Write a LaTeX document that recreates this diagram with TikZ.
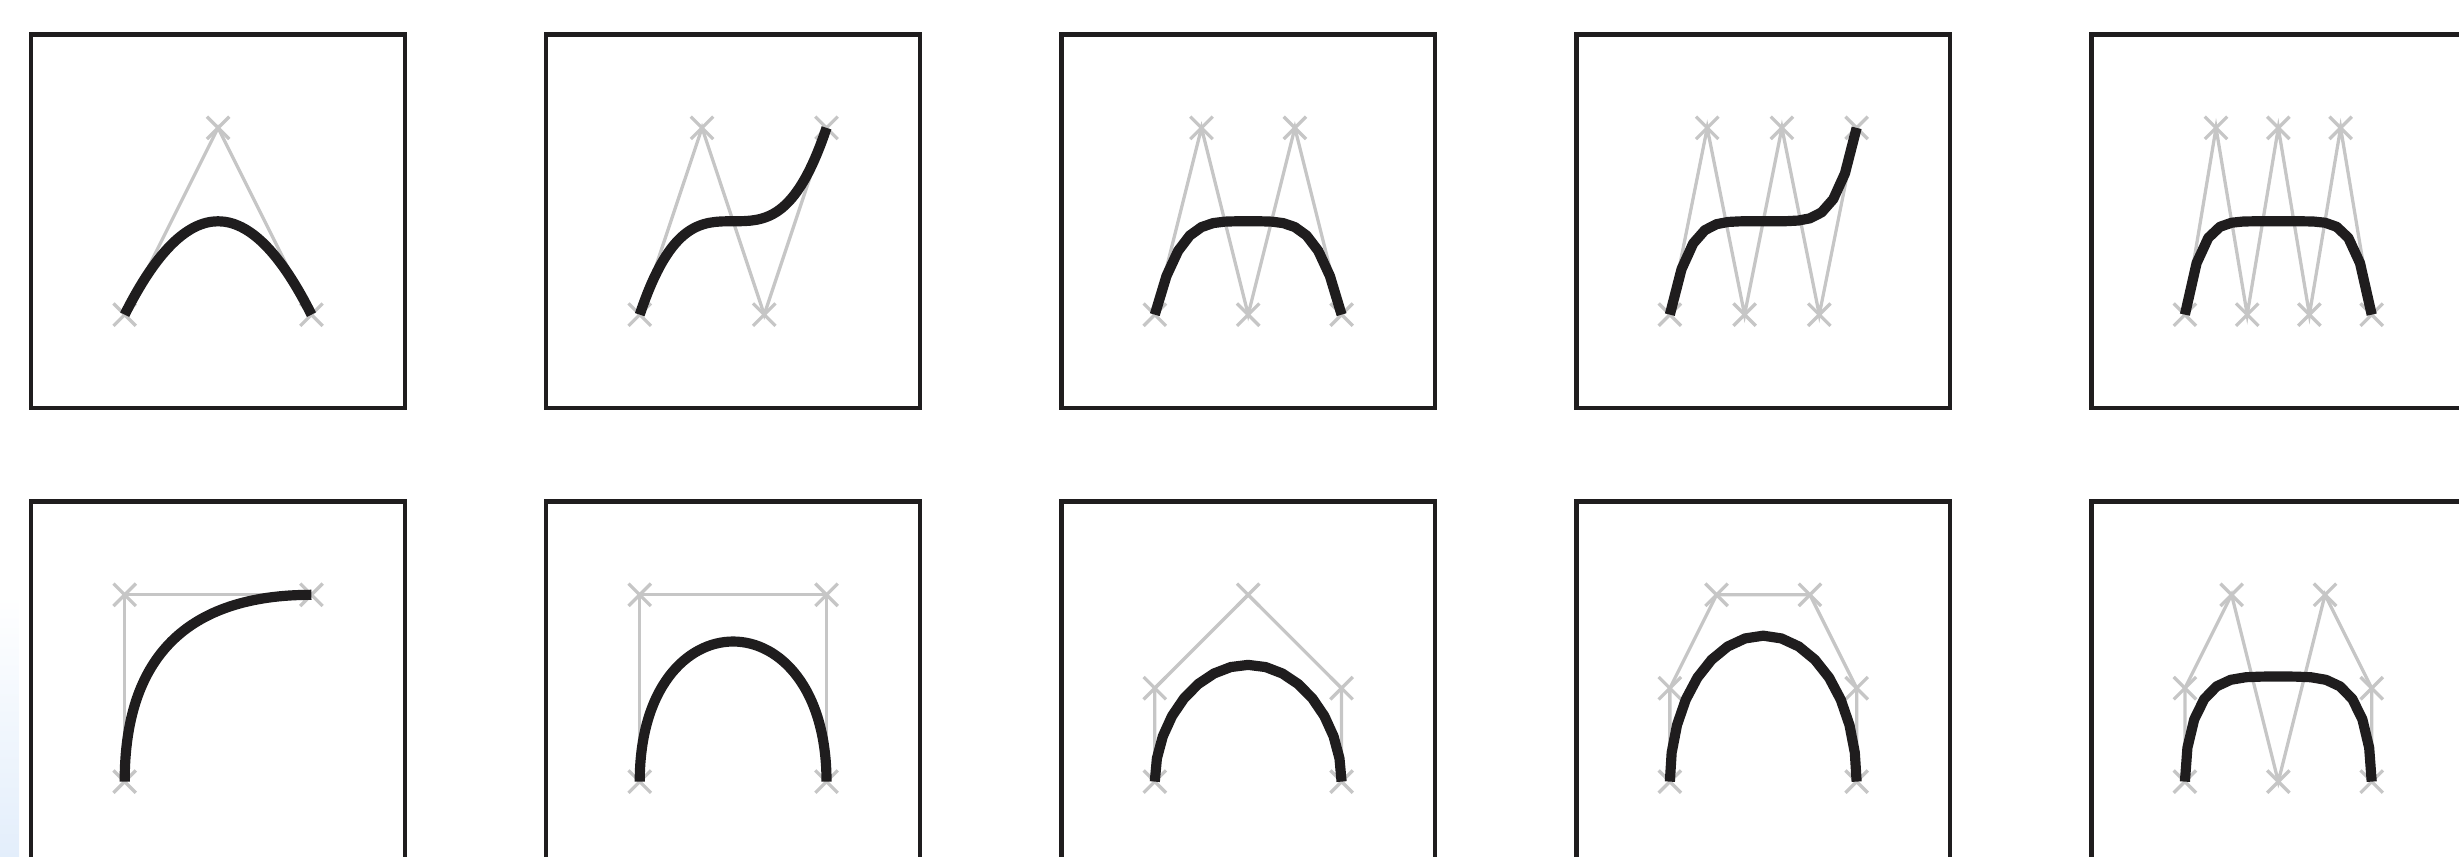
\documentclass[tikz,border=0pt]{standalone}
\usetikzlibrary{shapes.misc}

\definecolor{inkblack}{HTML}{1F1D1E}
\definecolor{hullgray}{HTML}{C6C6C6}
\definecolor{edgeblue}{HTML}{E3EEFB}

\tikzset{
  frame/.style={draw=inkblack, line width=1.3pt},
  hull/.style={draw=hullgray, line width=1pt},
  cpt/.style={cross out, draw=hullgray, line width=1pt, minimum size=0.24cm, inner sep=0pt, outer sep=0pt},
  curve/.style={draw=inkblack, line width=3.1pt, line join=round}
}

\begin{document}
\begin{tikzpicture}

		\useasboundingbox (-0.335,-4.807) rectangle (25.995,4.369);
		\shade[top color=white, bottom color=edgeblue] (-0.335,-4.807) rectangle (-0.13,-2.0);

		%Row 1: zigzag control polygons
		\begin{scope}
			\draw[frame] (0,0) rectangle (4,4);
			\node[cpt] (a0) at (1,1) {};
			\node[cpt] (a1) at (2,3) {};
			\node[cpt] (a2) at (3,1) {};
			\draw[hull] (a0.center) -- (a1.center) -- (a2.center);
			\draw[curve] (a0.center) .. controls +(0.667,1.333) and +(-0.667,1.333) .. (a2.center);
		\end{scope}

		\begin{scope}[shift={(5.515,0)}]
			\draw[frame] (0,0) rectangle (4,4);
			\node[cpt] (b0) at (1,1) {};
			\node[cpt] (b1) at (1.667,3) {};
			\node[cpt] (b2) at (2.333,1) {};
			\node[cpt] (b3) at (3,3) {};
			\draw[hull] (b0.center) -- (b1.center) -- (b2.center) -- (b3.center);
			\draw[curve] (b0.center) .. controls (b1.center) and (b2.center) .. (b3.center);
		\end{scope}

		\begin{scope}[shift={(11.03,0)}]
			\draw[frame] (0,0) rectangle (4,4);
			\node[cpt] (c0) at (1,1) {};
			\node[cpt] (c1) at (1.5,3) {};
			\node[cpt] (c2) at (2,1) {};
			\node[cpt] (c3) at (2.5,3) {};
			\node[cpt] (c4) at (3,1) {};
			\draw[hull] (c0.center) -- (c1.center) -- (c2.center) -- (c3.center) -- (c4.center);
			\draw[curve] plot[domain=1:-1, samples=17] ({2-(\x)},{2-(\x)*(\x)*(\x)*(\x)});
		\end{scope}

		\begin{scope}[shift={(16.545,0)}]
			\draw[frame] (0,0) rectangle (4,4);
			\node[cpt] (d0) at (1,1) {};
			\node[cpt] (d1) at (1.4,3) {};
			\node[cpt] (d2) at (1.8,1) {};
			\node[cpt] (d3) at (2.2,3) {};
			\node[cpt] (d4) at (2.6,1) {};
			\node[cpt] (d5) at (3,3) {};
			\draw[hull] (d0.center) -- (d1.center) -- (d2.center) -- (d3.center) -- (d4.center) -- (d5.center);
			\draw[curve] plot[domain=1:-1, samples=17] ({2-(\x)},{2-(\x)*(\x)*(\x)*(\x)*(\x)});
		\end{scope}

		\begin{scope}[shift={(22.06,0)}]
			\draw[frame] (0,0) rectangle (4,4);
			\node[cpt] (e0) at (1,1) {};
			\node[cpt] (e1) at (1.333,3) {};
			\node[cpt] (e2) at (1.667,1) {};
			\node[cpt] (e3) at (2,3) {};
			\node[cpt] (e4) at (2.333,1) {};
			\node[cpt] (e5) at (2.667,3) {};
			\node[cpt] (e6) at (3,1) {};
			\draw[hull] (e0.center) -- (e1.center) -- (e2.center) -- (e3.center) -- (e4.center) -- (e5.center) -- (e6.center);
			\draw[curve] plot[domain=1:-1, samples=17] ({2-(\x)},{2-(\x)*(\x)*(\x)*(\x)*(\x)*(\x)});
		\end{scope}

		%Row 2: arch control polygons
		\begin{scope}[shift={(0,-5)}]
			\draw[frame] (0,0) rectangle (4,4);
			\node[cpt] (f0) at (1,1) {};
			\node[cpt] (f1) at (1,3) {};
			\node[cpt] (f2) at (3,3) {};
			\draw[hull] (f0.center) -- (f1.center) -- (f2.center);
			\draw[curve] (f0.center) .. controls +(0,1.333) and +(-1.333,0) .. (f2.center);
		\end{scope}

		\begin{scope}[shift={(5.515,-5)}]
			\draw[frame] (0,0) rectangle (4,4);
			\node[cpt] (g0) at (1,1) {};
			\node[cpt] (g1) at (1,3) {};
			\node[cpt] (g2) at (3,3) {};
			\node[cpt] (g3) at (3,1) {};
			\draw[hull] (g0.center) -- (g1.center) -- (g2.center) -- (g3.center);
			\draw[curve] (g0.center) .. controls (g1.center) and (g2.center) .. (g3.center);
		\end{scope}

		\begin{scope}[shift={(11.03,-5)}]
			\draw[frame] (0,0) rectangle (4,4);
			\node[cpt] (h0) at (1,1) {};
			\node[cpt] (h1) at (1,2) {};
			\node[cpt] (h2) at (2,3) {};
			\node[cpt] (h3) at (3,2) {};
			\node[cpt] (h4) at (3,1) {};
			\draw[hull] (h0.center) -- (h1.center) -- (h2.center) -- (h3.center) -- (h4.center);
			\draw[curve] plot[domain=0:1, samples=17]
				({1+6*\x^2*(1-\x)^2+8*\x^3*(1-\x)+2*\x^4},
				 {1+4*\x*(1-\x)^3+12*\x^2*(1-\x)^2+4*\x^3*(1-\x)});
		\end{scope}

		\begin{scope}[shift={(16.545,-5)}]
			\draw[frame] (0,0) rectangle (4,4);
			\node[cpt] (k0) at (1,1) {};
			\node[cpt] (k1) at (1,2) {};
			\node[cpt] (k2) at (1.5,3) {};
			\node[cpt] (k3) at (2.5,3) {};
			\node[cpt] (k4) at (3,2) {};
			\node[cpt] (k5) at (3,1) {};
			\draw[hull] (k0.center) -- (k1.center) -- (k2.center) -- (k3.center) -- (k4.center) -- (k5.center);
			\draw[curve] plot[domain=0:1, samples=17]
				({1+5*\x^2*(1-\x)^3+15*\x^3*(1-\x)^2+10*\x^4*(1-\x)+2*\x^5},
				 {1+5*\x*(1-\x)^4+20*\x^2*(1-\x)^3+20*\x^3*(1-\x)^2+5*\x^4*(1-\x)});
		\end{scope}

		\begin{scope}[shift={(22.06,-5)}]
			\draw[frame] (0,0) rectangle (4,4);
			\node[cpt] (m0) at (1,1) {};
			\node[cpt] (m1) at (1,2) {};
			\node[cpt] (m2) at (1.5,3) {};
			\node[cpt] (m3) at (2,1) {};
			\node[cpt] (m4) at (2.5,3) {};
			\node[cpt] (m5) at (3,2) {};
			\node[cpt] (m6) at (3,1) {};
			\draw[hull] (m0.center) -- (m1.center) -- (m2.center) -- (m3.center) -- (m4.center) -- (m5.center) -- (m6.center);
			\draw[curve] plot[domain=0:1, samples=17]
				({1+7.5*\x^2*(1-\x)^4+20*\x^3*(1-\x)^3+22.5*\x^4*(1-\x)^2+12*\x^5*(1-\x)+2*\x^6},
				 {1+6*\x*(1-\x)^5+30*\x^2*(1-\x)^4+30*\x^4*(1-\x)^2+6*\x^5*(1-\x)});
		\end{scope}

	\end{tikzpicture}
\end{document}
